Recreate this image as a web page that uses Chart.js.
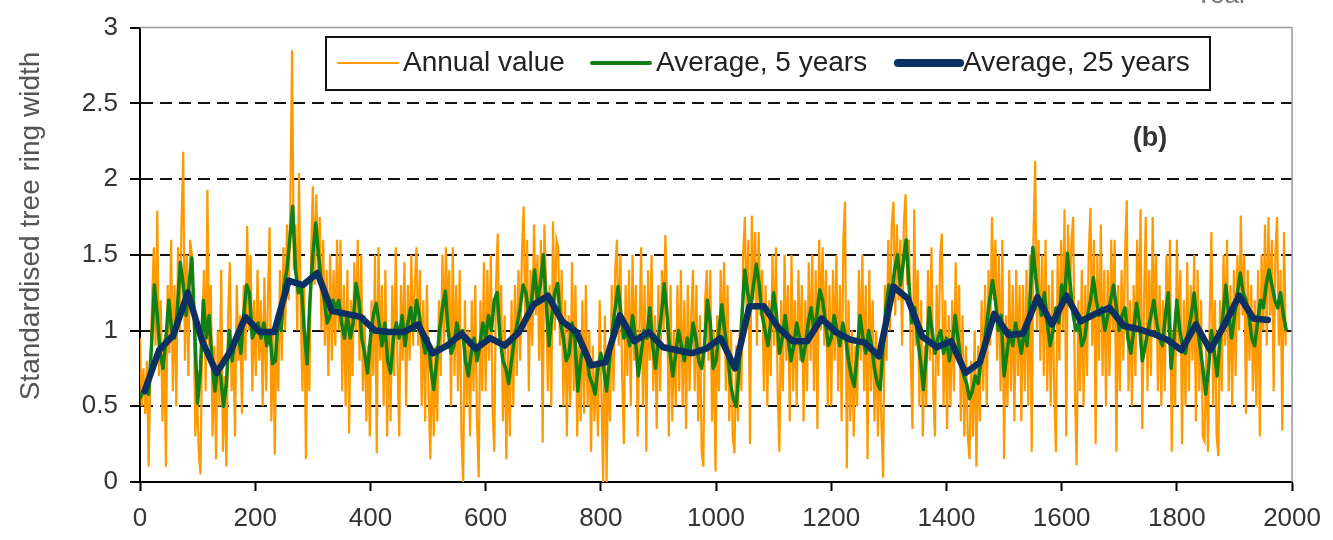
<!DOCTYPE html>
<html>
<head>
<meta charset="utf-8">
<script src="https://cdn.jsdelivr.net/npm/chart.js@4.4.1/dist/chart.umd.min.js"></script>
<style>
  html, body { margin: 0; padding: 0; background: #fff; }
</style>
</head>
<body>
<canvas id="myChart" width="1333" height="540"></canvas>
<script>
const FONT = '"Liberation Sans", Arial, sans-serif';

// annual values, one every 3 years from year 0
const annualStart = 0, annualStep = 3;
const annualValues = [
  0.95,0.5,0.75,0.45,0.8,0.1,0.7,1.2,1.55,0.9,
  1.79,0.7,1.2,0.4,0.95,0.1,1.3,0.85,1.6,0.6,
  1.3,0.5,1.55,1.0,1.7,2.18,0.8,1.5,0.7,1.6,
  1.5,1.2,0.3,0.6,0.2,0.05,1.0,1.4,0.6,1.93,
  0.9,1.3,0.3,0.9,0.15,1.0,0.5,1.4,0.2,0.7,
  0.1,1.1,1.45,0.6,0.9,0.3,1.3,0.8,1.1,0.45,
  1.3,0.8,1.69,1.0,1.5,0.6,1.2,0.7,1.4,0.8,
  1.2,0.5,1.35,0.6,1.2,1.68,0.4,1.0,0.18,1.1,
  0.6,1.4,0.8,1.55,1.0,1.7,1.2,1.85,2.85,1.4,
  1.7,1.0,2.04,1.1,0.6,1.3,0.15,1.0,0.6,1.5,
  1.95,1.3,1.9,1.4,1.75,1.0,1.6,0.9,1.4,0.7,
  1.5,0.8,1.4,0.9,1.6,1.0,1.6,0.6,1.3,0.5,
  1.4,0.32,1.2,0.7,1.45,1.0,1.6,0.8,1.5,0.6,
  1.1,0.4,0.9,0.3,1.2,0.7,1.5,0.19,1.55,0.8,
  1.3,0.5,1.4,0.3,1.0,0.4,1.3,0.7,1.55,0.8,
  0.3,1.3,0.8,1.45,0.5,1.3,0.8,1.5,0.9,1.3,
  1.55,0.9,1.4,0.5,1.2,0.4,1.3,0.6,0.15,0.9,
  0.3,0.9,0.4,1.2,0.7,1.5,0.9,1.55,1.1,1.4,
  0.5,1.55,0.7,1.3,0.6,1.4,0.3,0.0,1.2,0.5,
  1.0,0.3,1.2,0.6,1.3,0.4,0.03,1.2,0.6,1.45,
  0.6,1.4,0.8,1.5,0.5,0.2,1.3,1.64,0.9,1.3,
  0.4,1.1,0.15,0.9,0.3,1.2,0.5,1.3,0.7,1.4,
  0.8,1.5,1.82,1.0,1.6,0.6,1.4,0.9,1.7,1.1,
  1.5,0.8,1.6,0.26,1.7,1.3,0.6,1.3,0.5,1.72,
  1.0,1.6,1.55,0.9,1.4,0.5,1.2,0.3,1.1,0.5,
  1.45,0.6,1.3,0.3,0.9,0.4,1.2,0.45,1.3,0.5,
  1.0,0.2,0.9,0.4,0.8,0.3,1.2,0.6,0.0,1.1,
  0.0,0.9,0.4,1.3,0.6,1.4,1.6,0.9,1.5,0.7,
  0.25,1.3,0.7,1.4,0.5,1.5,0.8,1.3,0.3,1.0,
  1.55,0.5,1.3,0.2,1.4,0.8,1.5,0.6,1.1,0.35,
  1.3,0.6,1.4,1.0,1.63,1.2,0.3,1.3,0.4,1.0,
  0.5,1.3,0.6,1.4,0.5,1.2,0.35,1.3,0.6,1.1,
  1.4,0.6,1.3,0.4,1.1,0.2,0.1,1.2,1.4,0.8,
  1.4,0.4,1.0,0.07,1.1,0.6,1.4,0.9,1.45,0.6,
  1.3,0.4,1.0,0.3,0.19,0.9,0.4,1.0,0.6,1.5,
  1.75,1.1,1.6,0.25,1.76,1.2,1.65,0.9,1.65,1.1,
  1.4,0.6,1.3,0.5,1.2,0.7,1.5,0.9,1.55,0.6,
  0.2,1.2,0.6,1.5,0.8,1.3,0.4,1.5,0.6,1.2,
  0.5,1.4,0.8,1.3,0.4,1.2,0.6,1.45,0.8,1.5,
  0.6,1.4,0.35,1.6,1.0,1.55,0.9,1.4,0.5,1.3,
  0.5,1.4,0.8,1.5,0.6,1.3,0.4,1.6,1.85,0.09,
  1.2,0.4,1.0,0.3,0.9,0.5,1.4,0.8,1.5,0.6,
  1.3,0.15,1.4,0.6,1.2,0.4,1.0,0.3,0.9,0.4,
  0.03,1.3,0.8,1.6,1.0,1.7,1.85,1.1,1.7,1.2,
  1.6,0.9,1.7,1.9,1.3,1.6,0.8,0.35,1.8,0.9,
  1.4,0.5,1.2,0.3,0.9,0.5,1.4,0.8,1.55,0.6,
  0.3,1.3,0.7,1.5,1.64,0.5,1.2,0.35,1.1,0.5,
  1.2,0.6,1.45,0.8,1.3,0.4,1.1,0.3,0.9,0.3,
  0.15,0.8,0.3,1.0,0.1,0.9,0.4,1.2,0.6,1.3,
  0.5,1.4,0.9,1.75,1.2,1.6,0.8,1.5,0.6,1.6,
  0.15,1.1,0.5,1.4,0.6,1.3,0.4,1.4,0.7,1.3,
  0.4,1.3,0.6,1.4,0.5,1.5,0.2,1.6,2.12,1.0,
  1.6,0.8,1.5,0.7,1.6,0.6,1.3,0.5,1.4,0.6,
  0.2,1.5,0.8,1.6,1.0,1.8,0.3,1.7,1.2,1.6,
  1.75,0.6,0.11,1.2,0.6,1.4,0.5,1.3,0.7,1.5,
  1.81,0.9,1.6,0.25,1.5,0.8,1.7,0.7,1.4,0.5,
  1.4,0.7,1.6,1.0,1.6,0.2,1.3,0.6,1.4,0.8,
  1.5,1.86,0.6,1.2,0.5,1.3,0.7,1.6,1.0,1.8,
  0.35,1.2,1.75,0.6,1.4,0.7,1.75,1.0,1.5,0.6,
  1.3,0.5,1.2,0.6,1.5,1.0,1.6,0.2,1.0,0.5,
  1.6,0.9,1.4,0.25,1.2,0.5,1.45,0.6,1.3,0.8,
  1.5,0.4,1.4,0.6,1.2,0.3,0.27,0.9,0.2,1.1,
  1.65,0.5,1.2,0.3,0.17,1.2,0.6,1.5,0.9,1.6,
  0.6,1.3,0.5,1.4,0.7,1.5,1.0,1.76,1.1,1.5,
  0.45,1.4,0.8,1.3,0.6,1.2,0.5,1.4,0.3,1.5,
  1.0,1.7,0.9,1.75,1.1,1.6,0.6,1.5,1.75,0.9,
  1.4,0.34,1.65,0.9
];

// 5 year average, one every 5 years from year 0
const avg5Start = 0, avg5Step = 5;
const avg5Values = [
  0.55,0.6,0.6,0.58,0.9,1.3,1.1,0.85,0.75,0.95,
  1.2,1.0,0.95,1.15,1.45,1.3,1.1,1.3,1.48,1.0,
  0.52,0.75,1.2,0.95,1.1,0.8,0.6,0.75,0.7,0.5,
  0.65,1.0,0.8,0.95,1.0,0.85,1.1,1.3,1.25,0.95,
  1.0,1.05,0.95,1.05,0.9,1.0,0.78,0.8,1.1,1.0,
  1.3,1.4,1.6,1.82,1.4,1.25,1.3,1.0,0.78,1.2,
  1.5,1.71,1.5,1.3,1.2,1.05,1.1,1.2,1.15,1.2,
  1.05,0.95,1.1,0.95,1.05,1.31,1.2,0.95,0.85,0.72,
  0.95,1.1,1.18,1.05,0.9,1.05,0.8,0.72,0.95,1.05,
  0.95,1.1,0.9,1.05,1.15,1.0,1.2,1.1,0.95,0.85,
  0.95,0.75,0.61,0.8,1.0,1.15,1.26,1.0,0.85,0.9,
  1.05,0.95,1.0,0.8,0.7,0.85,0.95,0.8,0.9,1.05,
  0.95,1.1,1.0,1.2,1.25,0.95,0.8,0.75,0.65,0.8,
  0.95,1.05,1.15,1.3,1.25,1.1,1.2,1.4,1.2,1.3,
  1.5,1.2,0.9,1.1,1.25,1.31,1.05,0.95,0.8,0.85,
  1.05,0.95,0.6,0.8,0.9,0.85,0.7,0.65,0.58,0.75,
  0.85,0.75,0.6,0.8,1.0,1.15,1.29,1.1,0.95,1.0,
  0.9,1.1,0.95,0.7,0.85,1.0,0.95,1.15,0.9,0.75,
  0.95,1.1,1.31,1.1,0.85,0.7,0.85,1.0,0.9,0.8,
  0.95,0.85,1.05,0.95,0.8,0.75,0.9,1.2,1.05,0.75,
  0.8,1.0,1.17,1.0,0.85,0.65,0.55,0.5,0.75,1.1,
  1.4,1.25,1.15,1.3,1.44,1.3,1.1,1.0,0.9,1.05,
  1.25,1.1,0.85,0.95,1.1,0.95,0.8,0.9,1.05,0.95,
  0.8,0.9,1.05,1.15,1.0,1.1,1.27,1.2,1.05,0.9,
  0.95,1.1,1.0,0.9,1.05,0.95,0.8,0.7,0.63,0.85,
  1.1,0.95,0.85,1.0,0.9,0.75,0.65,0.61,0.9,1.15,
  1.3,1.25,1.4,1.5,1.3,1.45,1.6,1.3,1.05,1.15,
  0.95,0.8,0.61,0.85,1.15,1.0,0.85,0.95,1.0,0.85,
  0.95,0.8,0.9,1.1,0.95,0.8,0.7,0.65,0.55,0.6,
  0.7,0.65,0.8,0.9,1.05,1.2,1.33,1.2,1.0,1.1,
  0.7,0.85,1.0,0.9,1.05,0.95,0.85,1.0,0.9,1.2,
  1.55,1.35,1.2,1.1,1.25,1.05,0.9,1.0,1.15,1.05,
  1.3,1.2,1.51,1.3,1.1,1.0,1.05,0.9,0.95,1.1,
  1.2,1.35,1.2,1.1,1.15,1.0,1.1,1.2,1.3,1.15,
  1.0,1.1,1.15,0.95,0.85,1.0,1.18,1.05,0.8,0.9,
  1.0,1.1,1.2,1.05,0.95,0.9,1.1,1.25,0.75,0.95,
  1.2,1.0,0.9,0.85,1.0,1.1,1.25,1.05,0.9,0.75,
  0.58,0.75,1.0,0.85,0.7,0.95,1.1,1.3,1.1,0.95,
  1.1,1.25,1.38,1.25,1.2,1.1,0.95,0.9,1.05,1.2,
  1.15,1.3,1.4,1.3,1.2,1.15,1.25,1.1,1.0
];

// 25 year average, one every 25 years from year 8
const avg25Start = 8, avg25Step = 25;
const avg25Values = [
  0.6,0.87,0.97,1.25,0.93,0.72,0.87,1.09,0.99,0.99,
  1.33,1.3,1.38,1.13,1.11,1.09,1.0,0.99,0.99,1.04,
  0.85,0.9,0.98,0.88,0.95,0.9,0.99,1.17,1.23,1.06,
  0.99,0.77,0.79,1.1,0.93,0.99,0.89,0.87,0.85,0.88,
  0.95,0.75,1.16,1.16,1.02,0.93,0.93,1.08,0.99,0.94,
  0.92,0.83,1.29,1.21,0.96,0.89,0.93,0.72,0.79,1.11,
  0.97,0.98,1.22,1.04,1.23,1.06,1.11,1.15,1.03,1.01,
  0.98,0.94,0.87,1.04,0.87,1.04,1.23,1.08,1.07
];

const yTicksStep = 0.5;
const xTicksStep = 200;
const seriesLabels = ['Annual value', 'Average, 5 years', 'Average, 25 years'];

function toPoints(values, start, step) {
  return values.map((v, i) => ({ x: start + i * step, y: v }));
}

// legend box, y title and the small labels
const decorations = {
  id: 'decorations',
  afterDraw(chart) {
    const ctx = chart.ctx;
    const a = chart.chartArea;
    ctx.save();

    ctx.strokeStyle = '#9a9a9a';
    ctx.lineWidth = 1.5;
    ctx.beginPath();
    ctx.moveTo(a.left, a.top);
    ctx.lineTo(a.right, a.top);
    ctx.lineTo(a.right, a.bottom);
    ctx.stroke();

    // legend
    ctx.fillStyle = '#fff';
    ctx.fillRect(326, 37, 884, 53);
    ctx.strokeStyle = '#111';
    ctx.lineWidth = 2;
    ctx.strokeRect(326, 37, 884, 53);

    const items = [
      { x1: 338, x2: 398, tx: 403, w: 2 },
      { x1: 592, x2: 650, tx: 656, w: 4 },
      { x1: 898, x2: 960, tx: 963, w: 8 }
    ];
    ctx.font = '28px ' + FONT;
    ctx.textBaseline = 'alphabetic';
    ctx.textAlign = 'left';
    items.forEach((it, i) => {
      const ds = chart.data.datasets[i];
      ctx.strokeStyle = ds.borderColor;
      ctx.lineWidth = it.w;
      ctx.lineCap = 'round';
      ctx.beginPath();
      ctx.moveTo(it.x1, 63);
      ctx.lineTo(it.x2, 63);
      ctx.stroke();
      ctx.fillStyle = '#222';
      ctx.fillText(ds.label, it.tx, 71);
    });

    // (b)
    ctx.font = 'bold 27px ' + FONT;
    ctx.fillStyle = '#333';
    ctx.textAlign = 'center';
    ctx.textBaseline = 'middle';
    ctx.fillText('(b)', 1150, 139);

    // cut off "Year" at the top
    ctx.font = '26px ' + FONT;
    ctx.fillStyle = '#777';
    ctx.textAlign = 'left';
    ctx.textBaseline = 'alphabetic';
    ctx.fillText('Year', 1195, 3);

    // y title
    ctx.translate(31, 226);
    ctx.rotate(-Math.PI / 2);
    ctx.font = '28px ' + FONT;
    ctx.fillStyle = '#555';
    ctx.textAlign = 'center';
    ctx.textBaseline = 'middle';
    ctx.fillText('Standardised tree ring width', 0, 0);
    ctx.restore();
  }
};

const ctx = document.getElementById('myChart').getContext('2d');
const myChart = new Chart(ctx, {
  type: 'line',
  data: {
    datasets: [{
      label: seriesLabels[0],
      data: toPoints(annualValues, annualStart, annualStep),
      borderColor: 'rgb(255,153,0)',
      borderWidth: 2.2,
      pointRadius: 0,
      order: 3
    }, {
      label: seriesLabels[1],
      data: toPoints(avg5Values, avg5Start, avg5Step),
      borderColor: 'rgb(18,128,18)',
      borderWidth: 3.5,
      pointRadius: 0,
      borderJoinStyle: 'round',
      order: 2
    }, {
      label: seriesLabels[2],
      data: toPoints(avg25Values, avg25Start, avg25Step),
      borderColor: 'rgb(12,48,98)',
      borderWidth: 6.5,
      pointRadius: 0,
      borderJoinStyle: 'round',
      borderCapStyle: 'round',
      order: 1
    }]
  },
  options: {
    responsive: false,
    devicePixelRatio: 1,
    animation: false,
    layout: { padding: { left: 0, right: 38, top: 27, bottom: 0 } },
    plugins: {
      legend: { display: false },
      tooltip: { enabled: false }
    },
    scales: {
      x: {
        type: 'linear',
        min: 0,
        max: 2000,
        afterFit(scale) { scale.height = 58; },
        ticks: {
          stepSize: xTicksStep,
          autoSkip: false,
          maxRotation: 0,
          color: '#333',
          padding: 12,
          font: { family: FONT, size: 26 },
          callback: (v) => String(v)
        },
        grid: {
          drawOnChartArea: false,
          tickLength: 9,
          tickColor: '#000',
          tickWidth: 2
        },
        border: { color: '#000', width: 2 }
      },
      y: {
        min: 0,
        max: 3,
        afterFit(scale) { scale.width = 140; },
        ticks: {
          stepSize: yTicksStep,
          color: '#333',
          padding: 12,
          font: { family: FONT, size: 26 },
          callback: (v) => String(v)
        },
        grid: {
          color: (c) => (c.tick && (c.tick.value === 0 || c.tick.value === 3)) ? 'rgba(0,0,0,0)' : '#111',
          lineWidth: 2,
          tickLength: 10,
          tickColor: '#000',
          tickWidth: 2
        },
        border: { color: '#000', width: 2, dash: [12, 7] }
      }
    }
  },
  plugins: [decorations]
});
</script>
</body>
</html>
